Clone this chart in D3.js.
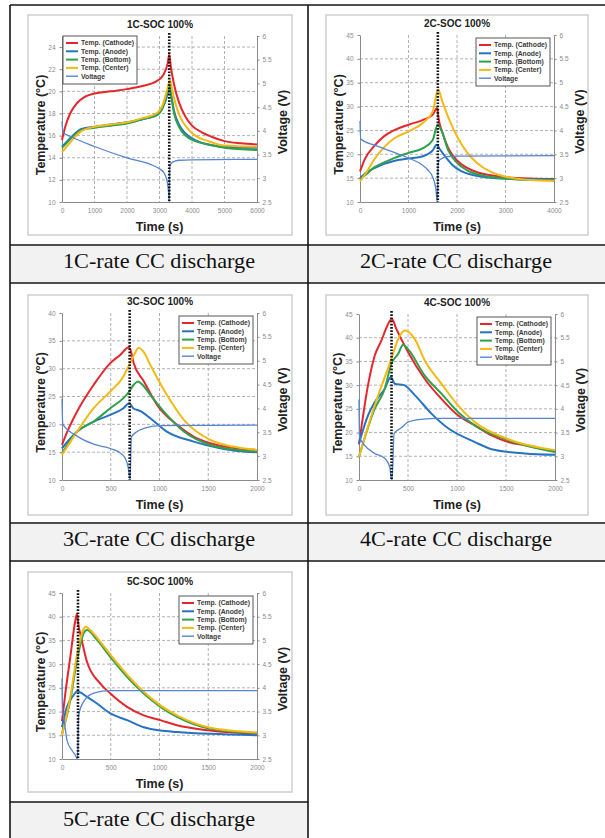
<!DOCTYPE html>
<html><head><meta charset="utf-8">
<script src="https://cdn.jsdelivr.net/npm/d3@7"></script>
<style>body{margin:0;background:#fff}svg{display:block}</style>
</head><body><svg id="c" width="605" height="838"></svg>
<script>
// ---------- DATA ----------
// [time (s), temperature (°C)] / [time (s), voltage (V)]
const cathode1C = [[0,15.6],[100,16.8],[250,18],[450,18.9],[700,19.5],[1000,19.8],[1500,20],[2000,20.2],[2500,20.5],[2900,20.9],[3100,21.4],[3250,22.5],[3300,23.3],[3350,22.2],[3450,20.6],[3600,19],[3800,17.7],[4000,16.9],[4300,16.3],[4600,15.9],[5000,15.5],[5500,15.3],[6000,15.2]];
const anode1C   = [[0,15],[200,15.6],[400,16.2],[600,16.6],[1000,16.8],[1500,17],[2000,17.2],[2500,17.5],[2900,17.9],[3100,18.6],[3250,19.8],[3300,20.6],[3350,19.8],[3450,18.2],[3600,17],[3800,16.2],[4100,15.6],[4500,15.2],[5000,15],[6000,14.9]];
const bottom1C  = [[0,14.9],[200,15.5],[400,16.1],[600,16.5],[1000,16.7],[1500,16.9],[2000,17.1],[2500,17.5],[2900,17.8],[3100,18.5],[3250,20],[3300,20.8],[3350,19.8],[3450,18],[3600,16.8],[3800,16],[4100,15.5],[4500,15.2],[5000,14.9],[6000,14.7]];
const center1C  = [[0,14.5],[200,15.2],[400,15.9],[600,16.4],[1000,16.8],[1500,17],[2000,17.2],[2500,17.6],[2900,18],[3100,18.8],[3250,20.3],[3320,21],[3400,20],[3500,18.8],[3650,17.6],[3850,16.7],[4100,16],[4500,15.5],[5000,15.1],[6000,15]];
const voltage1C = [[0,4.2],[30,3.97],[300,3.87],[1000,3.67],[2000,3.43],[2800,3.27],[3000,3.2],[3150,3.1],[3230,2.95],[3280,2.7],[3300,2.5],[3315,3.25],[3400,3.34],[3600,3.38],[4000,3.39],[6000,3.4]];

const cathode2C = [[0,16.4],[100,19],[300,21.8],[500,23.8],[700,25],[1000,26.2],[1300,27.2],[1500,28.3],[1590,29.7],[1620,27.5],[1700,24.5],[1820,21.3],[2000,18.7],[2200,17.2],[2400,16.3],[2700,15.6],[3000,15.2],[3500,14.9],[4000,14.8]];
const anode2C   = [[0,15],[150,16.3],[300,17.1],[500,18],[700,18.6],[1000,19.1],[1300,19.6],[1500,20.8],[1580,22],[1650,21],[1800,19],[1900,17.8],[2100,16.4],[2400,15.5],[2800,15],[3500,14.8],[4000,14.7]];
const bottom2C  = [[0,14.7],[150,16],[300,17.3],[500,18.3],[700,19.2],[1000,20.3],[1300,21.3],[1500,23],[1600,26.2],[1680,25],[1820,20.8],[2000,18.2],[2200,16.7],[2500,15.6],[3000,14.9],[3500,14.6],[4000,14.6]];
const center2C  = [[0,14.3],[150,16.5],[300,19],[500,21.5],[700,23.3],[1000,24.8],[1300,26.6],[1500,29],[1610,33.6],[1700,31],[1850,27],[2030,23.2],[2200,20.5],[2400,18.3],[2700,16.3],[3000,15.3],[3500,14.6],[4000,14.4]];
const voltage2C = [[0,4.2],[15,3.82],[300,3.69],[650,3.56],[1000,3.42],[1250,3.3],[1400,3.17],[1500,3.02],[1560,2.8],[1595,2.5],[1610,3.3],[1650,3.39],[1800,3.45],[2000,3.46],[4000,3.47]];

const cathode3C = [[0,16.3],[50,18.5],[155,22.3],[325,27.1],[495,31],[600,32.5],[680,33.8],[700,33.5],[735,31],[840,27.7],[975,23.5],[1180,19.9],[1350,17.8],[1520,16.6],[1750,15.8],[2000,15.4]];
const anode3C   = [[0,15.7],[155,18.7],[325,20.5],[495,21.7],[630,22.9],[690,23.8],[730,22.9],[800,22.4],[905,21.1],[1075,18.7],[1350,16.9],[1600,15.8],[1800,15.2],[2000,15]];
const bottom3C  = [[0,14.8],[155,18.7],[325,20.5],[495,22.9],[630,24.7],[690,25.9],[740,27.2],[780,27.7],[820,27.2],[905,25.3],[1075,21.7],[1250,18.7],[1520,16.3],[1750,15.5],[2000,15.1]];
const center3C  = [[0,14.5],[155,18.7],[325,22.9],[495,25.9],[630,28.6],[690,30.7],[740,32.5],[785,33.7],[830,33.2],[905,30.7],[1075,25.3],[1250,20.8],[1520,17.2],[1750,16],[2000,15.4]];
const voltage3C = [[0,4.2],[8,3.67],[155,3.42],[325,3.25],[495,3.16],[600,3.06],[650,2.95],[680,2.75],[698,2.5],[712,3.4],[760,3.5],[840,3.58],[1000,3.64],[2000,3.65]];

const cathode4C = [[0,17.5],[92,30],[160,36.2],[228,39.4],[300,43],[335,44],[382,41.8],[500,37],[671,31.3],[841,27.1],[1012,23.6],[1182,21.5],[1353,19.4],[1523,18],[1693,17.3],[2000,16]];
const anode4C   = [[0,17.7],[92,23.6],[160,26.4],[262,29.2],[325,31.7],[365,30.3],[460,30],[569,27.9],[739,24],[910,20.9],[1182,18],[1353,16.5],[1693,15.6],[2000,15.3]];
const bottom4C  = [[0,14.9],[160,25],[262,29.2],[330,34.5],[400,36.6],[450,38.5],[500,37.6],[671,32],[841,28.2],[1012,24.3],[1182,21.5],[1523,18.4],[2000,15.9]];
const center4C  = [[0,14.9],[160,25.7],[330,35.5],[400,39.7],[467,41.5],[569,39.7],[671,35.2],[841,30.3],[1012,25.7],[1182,22.2],[1523,18.6],[2000,16.3]];
const voltage4C = [[0,4.2],[5,3.42],[58,3.23],[160,3.06],[262,2.96],[313,2.78],[330,2.53],[338,2.5],[358,3.48],[433,3.6],[500,3.72],[637,3.78],[800,3.8],[2000,3.8]];

const cathode5C = [[0,18],[34,23.8],[85,31.5],[137,39.2],[154,40.6],[170,38],[188,36.4],[256,30.5],[393,25.9],[496,23.8],[667,21],[838,19.2],[1009,18.2],[1179,17.1],[1521,16],[2000,15.3]];
const anode5C   = [[0,16.7],[51,21],[120,23.5],[154,24.3],[256,23.1],[359,21.7],[496,19.6],[667,18.2],[838,16.7],[1009,16],[1179,15.7],[1521,15.3],[2000,15]];
const bottom5C  = [[0,15.3],[85,22.4],[154,30.8],[222,36.5],[256,37.2],[359,35.1],[496,31.5],[667,27.3],[838,23.8],[1009,21],[1179,18.9],[1521,16.4],[2000,15.5]];
const center5C  = [[0,15],[85,23],[154,32],[222,37.4],[239,37.9],[300,37],[359,35.6],[496,32],[667,27.8],[838,24.2],[1009,21.3],[1179,19.2],[1521,16.6],[2000,15.6]];
const voltage5C = [[0,4.2],[5,3.5],[17,3.39],[51,2.9],[103,2.68],[137,2.58],[158,2.5],[172,3.43],[222,3.71],[325,3.89],[496,3.94],[2000,3.94]];

const seriesNames  = ["Temp. (Cathode)","Temp. (Anode)","Temp. (Bottom)","Temp. (Center)","Voltage"];
const panelTitles  = ["1C-SOC 100%","2C-SOC 100%","3C-SOC 100%","4C-SOC 100%","5C-SOC 100%"];
const captions     = ["1C-rate CC discharge","2C-rate CC discharge","3C-rate CC discharge","4C-rate CC discharge","5C-rate CC discharge"];
const cutoffTimes  = [3300,1605,694,332,164];

const timeTicks1C = [0,1000,2000,3000,4000,5000,6000];
const timeTicks2C = [0,1000,2000,3000,4000];
const timeTicks3to5C = [0,500,1000,1500,2000];
const tempTicks1C = [10,12,14,16,18,20,22,24];
const tempTicks3C = [10,15,20,25,30,35,40];
const tempTicks245C = [10,15,20,25,30,35,40,45];
const voltTicks = [2.5,3,3.5,4,4.5,5,5.5,6];
const tempMax = [25,45,40,45,45];
const timeMax = [6000,4000,2000,2000,2000];

// ---------- STYLE / LAYOUT ----------
const colors = ["#e5262c","#2673c4","#2da14b","#f5b915","#5585d0"];
const widths = [2,2,2,2,1.3];
const boxes = [
  {bx:28, by:15, bw:264, bh:220, l:62, r:257, t:36, b:202, legend:"left"},
  {bx:326,by:15, bw:262, bh:220, l:360,r:554, t:35, b:202, legend:"right"},
  {bx:28, by:295,bw:264, bh:220, l:62, r:257, t:313,b:480, legend:"right"},
  {bx:326,by:295,bw:262, bh:220, l:359,r:555, t:314,b:480, legend:"right"},
  {bx:28, by:572,bw:264, bh:220, l:62, r:257, t:593,b:759, legend:"right"}
];
const panelData = [
  [cathode1C,anode1C,bottom1C,center1C,voltage1C],
  [cathode2C,anode2C,bottom2C,center2C,voltage2C],
  [cathode3C,anode3C,bottom3C,center3C,voltage3C],
  [cathode4C,anode4C,bottom4C,center4C,voltage4C],
  [cathode5C,anode5C,bottom5C,center5C,voltage5C]
];
const panelXTicks = [timeTicks1C,timeTicks2C,timeTicks3to5C,timeTicks3to5C,timeTicks3to5C];
const panelTTicks = [tempTicks1C,tempTicks245C,tempTicks3C,tempTicks245C,tempTicks245C];

const svg = d3.select("#c");
svg.append("rect").attr("width",605).attr("height",838).attr("fill","#fff");

// ---------- TABLE ----------
const capRows = [{y0:245,y1:283,x1:605},{y0:523,y1:561,x1:605},{y0:802,y1:840,x1:308}];
capRows.forEach(r=>svg.append("rect").attr("x",10).attr("y",r.y0).attr("width",r.x1-10).attr("height",r.y1-r.y0).attr("fill","#f1f2f1"));
const tbl = svg.append("g").attr("stroke","#151515").attr("stroke-width",1.6);
[[10,5,605,5],[10,245,605,245],[10,283,605,283],[10,523,605,523],[10,561,605,561],[10,802,308,802],
 [10,5,10,838],[308,5,308,838]].forEach(d=>tbl.append("line").attr("x1",d[0]).attr("y1",d[1]).attr("x2",d[2]).attr("y2",d[3]));
const capPos = [[159,268],[456,268],[159,546],[456,546],[159,826]];
captions.forEach((c,i)=>svg.append("text").attr("x",capPos[i][0]).attr("y",capPos[i][1]).attr("text-anchor","middle")
  .attr("font-family","'Liberation Serif','Times New Roman',serif").attr("font-size",21)
  .attr("textLength",192).attr("lengthAdjust","spacingAndGlyphs").attr("fill","#111").text(c));

// ---------- PANELS ----------
const sans = "'Liberation Sans',Arial,sans-serif";
boxes.forEach((B,i)=>{
  const g = svg.append("g");
  g.append("rect").attr("x",B.bx).attr("y",B.by).attr("width",B.bw).attr("height",B.bh)
    .attr("fill","#fff").attr("stroke","#d3d3d3").attr("stroke-width",1.6);
  const x = d3.scaleLinear().domain([0,timeMax[i]]).range([B.l,B.r]);
  const yT = d3.scaleLinear().domain([10,tempMax[i]]).range([B.b,B.t]);
  const yV = d3.scaleLinear().domain([2.5,6]).range([B.b,B.t]);

  // grid
  const grid = g.append("g").attr("stroke","#a9a9a9").attr("stroke-width",0.9).attr("stroke-dasharray","3,2");
  panelXTicks[i].filter(v=>v>0 && v<timeMax[i]).forEach(v=>grid.append("line").attr("x1",x(v)).attr("x2",x(v)).attr("y1",B.t).attr("y2",B.b));
  panelTTicks[i].filter(v=>v>10 && v<tempMax[i]).forEach(v=>grid.append("line").attr("x1",B.l).attr("x2",B.r).attr("y1",yT(v)).attr("y2",yT(v)));

  // axes
  const styleAxis = sel => {
    sel.selectAll("path,line").attr("stroke","#8a8a8a");
    sel.selectAll("text").attr("fill","#8a8a8a").attr("font-size",6.5).attr("font-family",sans);
  };
  g.append("g").attr("transform",`translate(0,${B.b})`)
    .call(d3.axisBottom(x).tickValues(panelXTicks[i]).tickSize(0).tickPadding(6).tickFormat(d3.format("d")))
    .call(styleAxis);
  g.append("g").attr("transform",`translate(${B.l},0)`)
    .call(d3.axisLeft(yT).tickValues(panelTTicks[i]).tickSize(2.5).tickSizeOuter(0).tickPadding(4).tickFormat(d3.format("d")))
    .call(styleAxis);
  g.append("g").attr("transform",`translate(${B.r},0)`)
    .call(d3.axisRight(yV).tickValues(voltTicks).tickSize(2.5).tickSizeOuter(0).tickPadding(3).tickFormat(d=>String(d)))
    .call(styleAxis);

  // series
  panelData[i].forEach((ser,k)=>{
    const yS = k===4 ? yV : yT;
    const line = d3.line().x(d=>x(d[0])).y(d=>yS(d[1])).curve(d3.curveMonotoneX);
    g.append("path").datum(ser).attr("d",line).attr("fill","none")
      .attr("stroke",colors[k]).attr("stroke-width",widths[k]).attr("stroke-linejoin","round");
  });

  // cutoff dotted line
  g.append("line").attr("x1",x(cutoffTimes[i])).attr("x2",x(cutoffTimes[i])).attr("y1",B.t-3).attr("y2",B.b)
    .attr("stroke","#111").attr("stroke-width",2.6).attr("stroke-dasharray","1.7,1.5");

  // legend
  const lw = 74, lh = 48;
  const lx = B.legend==="left" ? B.l+1 : B.r-4-lw;
  const ly = B.legend==="left" ? B.t : B.t+3;
  const lg = g.append("g").attr("transform",`translate(${lx},${ly})`);
  lg.append("rect").attr("width",lw).attr("height",lh).attr("fill","#fff").attr("stroke","#444").attr("stroke-width",0.9);
  seriesNames.forEach((n,k)=>{
    const yy = 7 + k*8.3;
    lg.append("line").attr("x1",3).attr("x2",15).attr("y1",yy).attr("y2",yy).attr("stroke",colors[k]).attr("stroke-width",k===4?1.4:2);
    lg.append("text").attr("x",18).attr("y",yy).attr("dy","0.35em").attr("font-size",6.8).attr("font-weight","bold")
      .attr("font-family",sans).attr("fill","#3a3a3a").text(n);
  });

  // titles
  g.append("text").attr("x",B.bx+B.bw/2).attr("y",B.t-8).attr("text-anchor","middle")
    .attr("font-family",sans).attr("font-weight","bold").attr("font-size",10).attr("fill","#222").text(panelTitles[i]);
  g.append("text").attr("x",(B.l+B.r)/2).attr("y",B.b+29).attr("text-anchor","middle")
    .attr("font-family",sans).attr("font-weight","bold").attr("font-size",12.5).attr("fill","#222").text("Time  (s)");
  g.append("text").attr("transform",`translate(${B.l-17.5},${(B.t+B.b)/2+6}) rotate(-90)`).attr("text-anchor","middle")
    .attr("font-family",sans).attr("font-weight","bold").attr("font-size",12.5).attr("fill","#222").text("Temperature (°C)");
  g.append("text").attr("transform",`translate(${B.r+30},${(B.t+B.b)/2+3}) rotate(-90)`).attr("text-anchor","middle")
    .attr("font-family",sans).attr("font-weight","bold").attr("font-size",12.5).attr("fill","#222").text("Voltage (V)");
});
</script></body></html>
